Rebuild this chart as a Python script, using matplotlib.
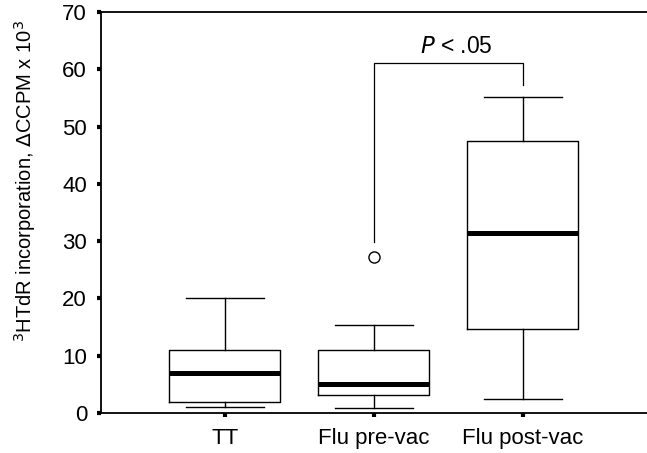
import matplotlib.pyplot as plt

plt.rcParams['font.family'] = ['Liberation Sans', 'DejaVu Sans']

groups = ["TT", "Flu pre-vac", "Flu post-vac"]
whislo = [1.0, 0.9, 2.4]
q1 = [1.9, 3.2, 14.7]
med = [7.0, 5.1, 31.5]
q3 = [11.0, 11.0, 47.5]
whishi = [20.1, 15.4, 55.2]
fliers = [[], [27.2], []]

yticks = [0, 10, 20, 30, 40, 50, 60, 70]

# significance bracket
bracket_pair = (2, 3)
bracket_top = 61.1
bracket_left_end = 29.8
bracket_right_end = 57.2
bracket_text = r"$\it{P}$ < .05"

fig = plt.figure(figsize=(6.47, 4.53), dpi=100)
ax = fig.add_axes([0.156, 0.0883, 0.844, 0.8852])

stats = []
for i in range(len(groups)):
    stats.append(dict(med=med[i], q1=q1[i], q3=q3[i], whislo=whislo[i],
                      whishi=whishi[i], fliers=fliers[i], label=groups[i]))

ax.bxp(stats, positions=[1, 2, 3], widths=0.745, capwidths=0.52,
       showfliers=True, patch_artist=False,
       boxprops=dict(color="black", linewidth=1.0),
       whiskerprops=dict(color="black", linewidth=1.0),
       capprops=dict(color="black", linewidth=1.0),
       medianprops=dict(color="black", linewidth=3.6, solid_capstyle="butt"),
       flierprops=dict(marker="o", markerfacecolor="white",
                       markeredgecolor="black", markersize=8, markeredgewidth=1.0))

# bracket
x1, x2 = bracket_pair
ax.plot([x1, x1, x2, x2],
        [bracket_left_end, bracket_top, bracket_top, bracket_right_end],
        color="black", linewidth=0.9)
ax.text((x1 + x2) / 2 + 0.05, bracket_top + 0.9, bracket_text,
        ha="center", va="bottom", fontsize=16.5)

ax.set_xlim(1 - 124 / 149, 3 + 124 / 149)
ax.set_ylim(0, 70)
ax.set_yticks(yticks)
ax.set_xticks([1, 2, 3])
ax.set_xticklabels(groups, fontsize=16)
ax.tick_params(axis="y", labelsize=16, length=3, width=3, pad=7, direction="out")
ax.tick_params(axis="x", labelsize=16, length=3, width=3, pad=8, direction="out")

ax.spines["right"].set_visible(False)
for s in ["left", "bottom", "top"]:
    ax.spines[s].set_linewidth(1.3)

ax.text(-0.139, 0.579, r"$^{3}$HTdR incorporation, $\Delta$CCPM x 10$^{3}$",
        transform=ax.transAxes, rotation=90, ha="center", va="center",
        fontsize=14.5)

plt.savefig("out.png", dpi=100)
